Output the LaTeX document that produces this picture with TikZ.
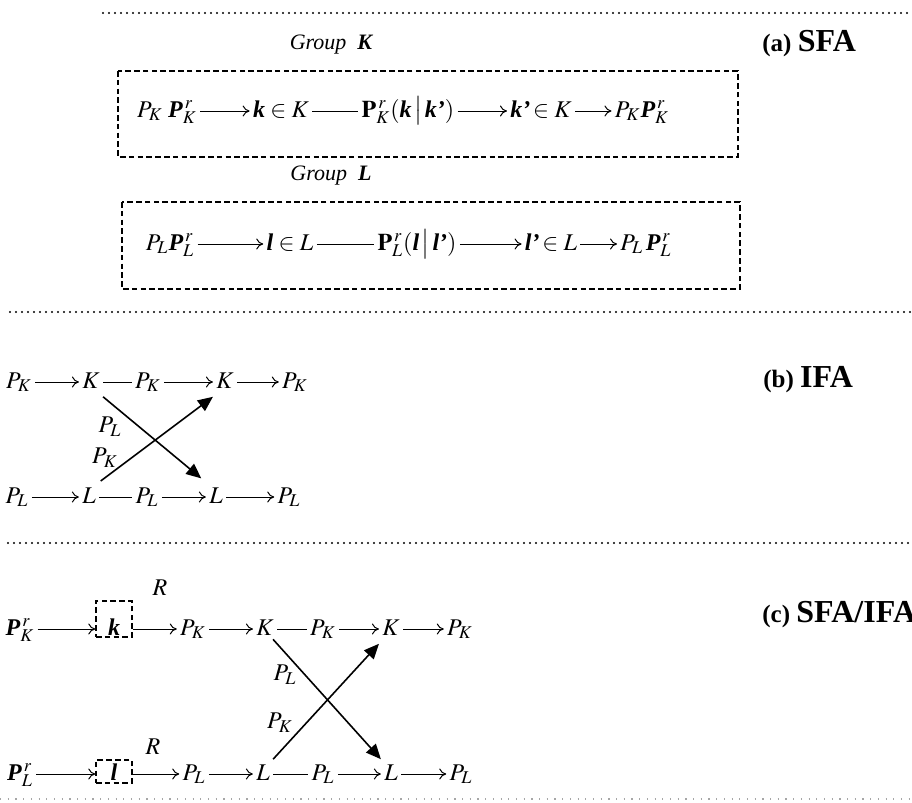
\documentclass[tikz,border=0pt]{standalone}
\usepackage{amsmath}
\usepackage{mathptmx}
\usepackage{fontspec}
\setmainfont{Liberation Serif}
\usepackage{tikz}
\usetikzlibrary{arrows.meta,positioning}
\newcommand{\bfit}[1]{\mbox{\bfseries\itshape #1}}

\begin{document}
\begin{tikzpicture}[x=0.5pt,y=-0.5pt,
    txt/.style={font=\fontsize{12}{14}\selectfont, inner sep=1.5pt, anchor=base,
                text height=8.7pt, text depth=2.7pt},
    side/.style={font=\fontsize{12}{14}\selectfont, inner sep=0pt},
    flow/.style={-{To[length=3.5pt,width=5.5pt]}, line width=0.5pt},
    joint/.style={line width=0.5pt},
    cross/.style={-{Triangle[length=7.5pt,width=6.5pt]}, line width=0.8pt},
    dashbox/.style={draw, dash pattern=on 2.8pt off 1.6pt, line width=0.7pt},
    sep/.style={line width=1.2pt, dash pattern=on 0pt off 3pt, line cap=round},
    tag/.style={anchor=base west, inner sep=0pt, font=\bfseries}]
    \useasboundingbox (0,0) rectangle (912,803);

    % separators
    \draw[sep] (103,13) -- (912,13);
    \draw[sep] (10,312) -- (912,312);
    \draw[sep] (8,543) -- (912,543);
    \draw[gray!70, line width=0.6pt, dash pattern=on 0.6pt off 3.25pt] (0,799) -- (912,799);

    % (a) SFA
    \node[tag] (taga) at (762,51) {\fontsize{12.5}{14}\selectfont(a) \fontsize{16}{17}\selectfont SFA};
    \node[side, anchor=base, font=\fontsize{11}{13}\selectfont] (grpk) at (331,49) {\textit{Group} \ $\bfit{K}$};
    \draw[dashbox] (118,71) rectangle (738,157);
    \node[txt] (kstart) at (167,117) {$P_K\;\bfit{P}_K^{\,r}$};
    \node[txt] (kin) at (281,117) {$\bfit{k}\in K$};
    \node[txt] (kprob) at (408,117) {$\mathbf{P}_K^{\,r}(\bfit{k}\,\big|\,\bfit{k'})$};
    \node[txt] (kout) at (541,117) {$\bfit{k'}\!\in K$};
    \node[txt] (kend) at (642,117) {$P_K\bfit{P}_K^{\,r}$};
    \draw[flow] (kstart) -- (kin);
    \draw[joint] (kin) -- (kprob);
    \draw[flow] (kprob) -- (kout);
    \draw[flow] (kout) -- (kend);

    \node[side, anchor=base, font=\fontsize{11}{13}\selectfont] (grpl) at (331,180) {\textit{Group} \ $\bfit{L}$};
    \draw[dashbox] (122,202) rectangle (740,289);
    \node[txt] (lstart) at (170,250) {$P_L\bfit{P}_L^{\,r}$};
    \node[txt] (lin) at (290,250) {$\bfit{l}\in L$};
    \node[txt] (lprob) at (417,250) {$\mathbf{P}_L^{\,r}(\bfit{l}\,\big|\,\bfit{l'})$};
    \node[txt] (lout) at (551,250) {$\bfit{l'}\!\in L$};
    \node[txt] (lend) at (646,250) {$P_L\,\bfit{P}_L^{\,r}$};
    \draw[flow] (lstart) -- (lin);
    \draw[joint] (lin) -- (lprob);
    \draw[flow] (lprob) -- (lout);
    \draw[flow] (lout) -- (lend);

    % (b) IFA
    \node[tag] (tagb) at (763,387) {\fontsize{12.5}{14}\selectfont(b) \fontsize{16}{17}\selectfont IFA};
    \node[txt] (bp1) at (19,388) {$P_K$};
    \node[txt] (bK1) at (91,388) {$K$};
    \node[txt] (bp2) at (148,388) {$P_K$};
    \node[txt] (bK2) at (225,388) {$K$};
    \node[txt] (bp3) at (295,388) {$P_K$};
    \node[txt] (bq1) at (17,503) {$P_L$};
    \node[txt] (bL1) at (89,503) {$L$};
    \node[txt] (bq2) at (147,503) {$P_L$};
    \node[txt] (bL2) at (216,503) {$L$};
    \node[txt] (bq3) at (289,503) {$P_L$};
    \draw[flow] (bp1) -- (bK1);
    \draw[joint] (bK1) -- (bp2);
    \draw[flow] (bp2) -- (bK2);
    \draw[flow] (bK2) -- (bp3);
    \draw[flow] (bq1) -- (bL1);
    \draw[joint] (bL1) -- (bq2);
    \draw[flow] (bq2) -- (bL2);
    \draw[flow] (bL2) -- (bq3);
    \draw[cross, shorten >=3pt] (bK1.south east) -- (bL2.north west);
    \draw[cross, shorten <=1pt] (bL1.north east) -- (bK2.south west);
    \node[side] (bpl) at (110,427) {$P_L$};
    \node[side] (bpk) at (105,458) {$P_K$};

    % (c) SFA/IFA
    \node[tag] (tagc) at (762,622) {\fontsize{12.5}{14}\selectfont(c) \fontsize{16}{17}\selectfont SFA/IFA};
    \node[side] (cr1) at (160,588) {$R$};
    \node[txt] (cpr) at (20,635) {$\bfit{P}_K^{\,r}$};
    \node[txt, dashbox, inner sep=0pt, text height=17pt, text depth=1pt,
          minimum width=18pt] (ck) at (114,635) {$\bfit{k}$};
    \node[txt] (cp1) at (193,635) {$P_K$};
    \node[txt] (cK1) at (265,635) {$K$};
    \node[txt] (cp2) at (323,635) {$P_K$};
    \node[txt] (cK2) at (391,635) {$K$};
    \node[txt] (cp3) at (460,635) {$P_K$};
    \draw[flow] (cpr.east) -- (cpr.east -| ck.west);
    \draw[flow] (ck.east |- cp1.west) -- (cp1.west);
    \draw[flow] (cp1) -- (cK1);
    \draw[joint] (cK1) -- (cp2);
    \draw[flow] (cp2) -- (cK2);
    \draw[flow] (cK2) -- (cp3);

    \node[side] (cr2) at (153,747) {$R$};
    \node[txt] (cqr) at (20,780) {$\bfit{P}_L^{\,r}$};
    \node[txt, dashbox, inner sep=0pt, text height=10pt, text depth=1.5pt,
          minimum width=18pt] (cl) at (114,780) {$\bfit{l}$};
    \node[txt] (cq1) at (194,780) {$P_L$};
    \node[txt] (cL1) at (263,780) {$L$};
    \node[txt] (cq2) at (323,780) {$P_L$};
    \node[txt] (cL2) at (391,780) {$L$};
    \node[txt] (cq3) at (461,780) {$P_L$};
    \draw[flow] (cqr.east) -- (cqr.east -| cl.west);
    \draw[flow] (cl.east |- cq1.west) -- (cq1.west);
    \draw[flow] (cq1) -- (cL1);
    \draw[joint] (cL1) -- (cq2);
    \draw[flow] (cq2) -- (cL2);
    \draw[flow] (cL2) -- (cq3);
    \draw[cross, shorten <=-3pt] (cK1.south east) -- (cL2.north west);
    \draw[cross] (cL1.north east) -- (cK2.south west);
    \node[side] (cpl) at (285,675) {$P_L$};
    \node[side] (cpk) at (280,723) {$P_K$};
\end{tikzpicture}
\end{document}
